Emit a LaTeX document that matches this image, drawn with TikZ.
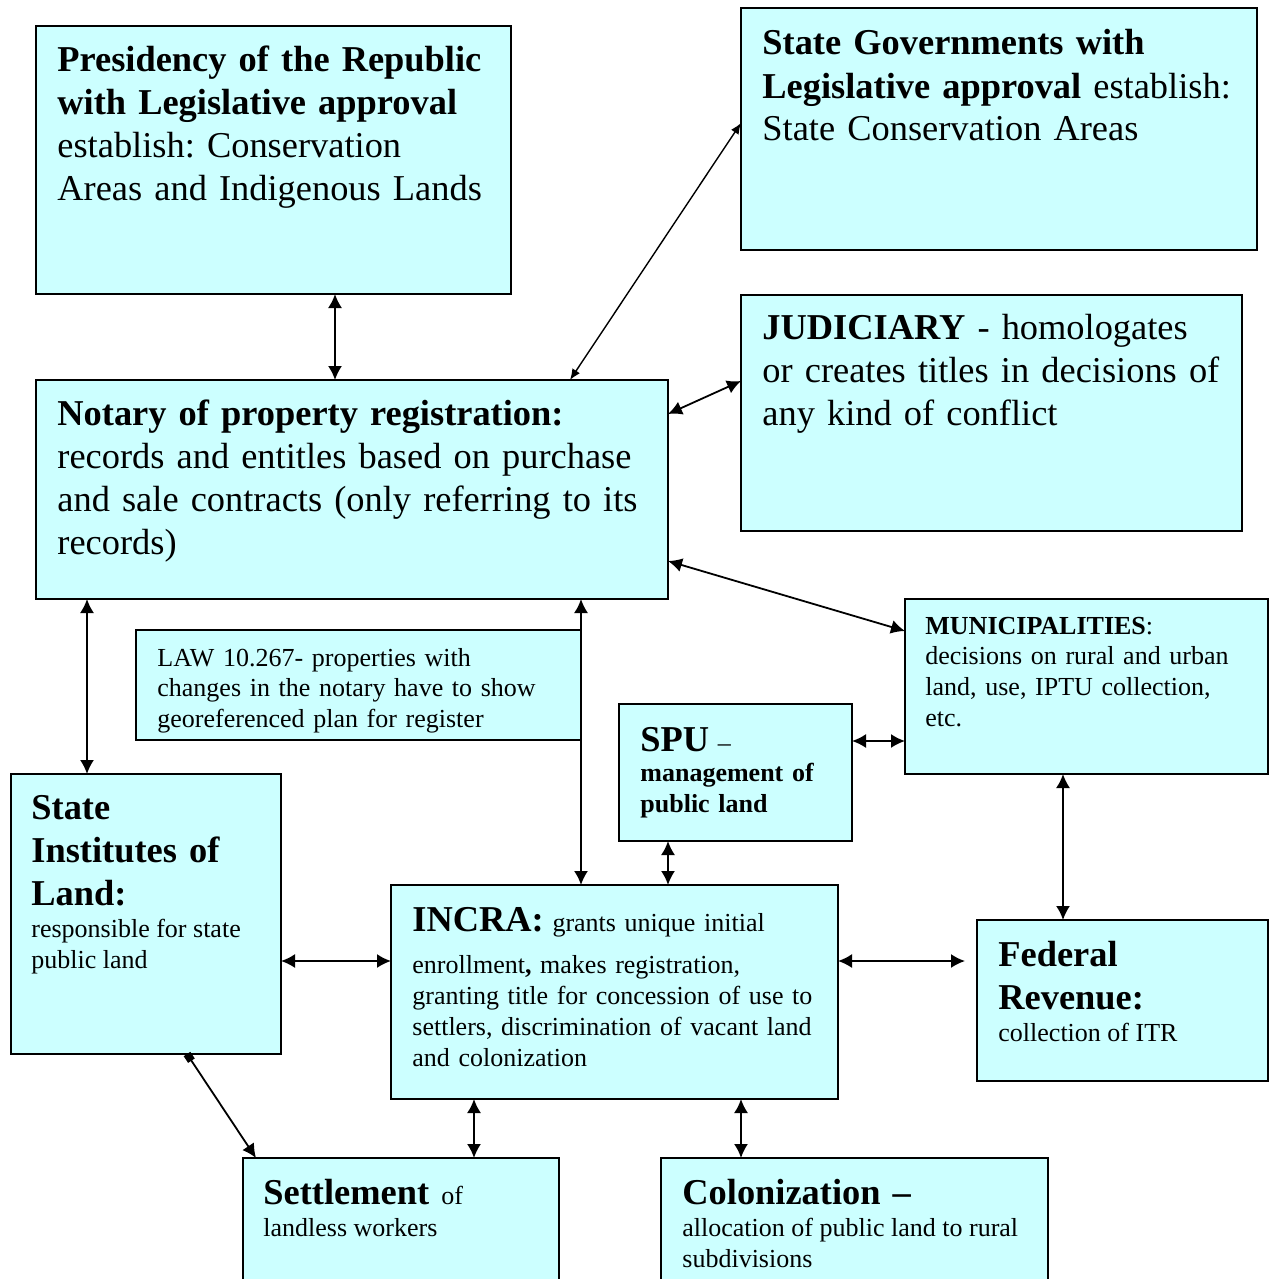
\documentclass[tikz,border=0pt]{standalone}
\usepackage{fontspec}
\setmainfont{Liberation Serif}
\usetikzlibrary{arrows.meta}
\definecolor{boxcyan}{HTML}{CCFFFF}
\newcommand{\bigtxt}{\fontsize{18.2}{21.5}\selectfont\spaceskip=0pt\xspaceskip=0pt}
\newcommand{\smalltxt}{\fontsize{13}{15.4}\selectfont\spaceskip=0pt\xspaceskip=0pt}
\setlength{\parindent}{0pt}
\frenchspacing

\begin{document}
\begin{tikzpicture}[x=0.5pt, y=-0.5pt]

            % Define block styles
            \tikzstyle{box} = [rectangle, draw, line width=1pt, fill=boxcyan, inner sep=0pt, outer sep=0pt]
            \tikzstyle{txt} = [inner sep=0pt, anchor=base west]
            \tikzstyle{line} = [draw, line width=0.9pt, {Latex[length=7pt,width=7pt]}-{Latex[length=7pt,width=7pt]}]

            \useasboundingbox (0,0) rectangle (1270,1279);
            \clip (0,0) rectangle (1270,1279);

            % Boxes
            \node [box, minimum width=237.5pt, minimum height=134pt] (pres) at (273.5,160) {};
            \node [box, minimum width=258pt, minimum height=121pt] (stategov) at (999,129) {};
            \node [box, minimum width=250.5pt, minimum height=118pt] (judic) at (991.5,413) {};
            \node [box, minimum width=316pt, minimum height=109.5pt] (notary) at (352,489.5) {};
            \node [box, minimum width=222.5pt, minimum height=55pt] (law) at (358.5,685) {};
            \node [box, minimum width=181.5pt, minimum height=87.5pt] (muni) at (1086.5,686.5) {};
            \node [box, minimum width=116.5pt, minimum height=68.5pt] (spu) at (735.5,772.5) {};
            \node [box, minimum width=135pt, minimum height=140pt] (stinst) at (146,914) {};
            \node [box, minimum width=223.5pt, minimum height=107pt] (incra) at (614.5,992) {};
            \node [box, minimum width=145.5pt, minimum height=80.5pt] (federal) at (1122.5,1000.5) {};
            \node [box, minimum width=158pt, minimum height=81pt] (settle) at (401,1239) {};
            \node [box, minimum width=193.5pt, minimum height=81pt] (colon) at (854.5,1239) {};

            % Texts
            \node [txt, text width=220pt, font=\bigtxt] (pres-t) at (57,72) {\textbf{Presidency of the Republic\\ with Legislative approval}\\ establish: Conservation\\ Areas and Indigenous Lands};
            \node [txt, text width=240pt, font=\bigtxt] (stategov-t) at (762,55) {\textbf{State Governments with\\ Legislative approval} establish:\\ State Conservation Areas};
            \node [txt, text width=235pt, font=\bigtxt] (judic-t) at (762,339) {\textbf{JUDICIARY} - homologates\\ or creates titles in decisions of\\ any kind of conflict};
            \node [txt, text width=300pt, font=\bigtxt] (notary-t) at (57,425) {\textbf{Notary of property registration:}\\ records and entitles based on purchase\\ and sale contracts (only referring to its\\ records)};
            \node [txt, text width=205pt, font=\smalltxt] (law-t) at (157,666) {LAW 10.267- properties with\\ changes in the notary have to show\\ georeferenced plan for register};
            \node [txt, text width=168pt, font=\smalltxt] (muni-t) at (925,634) {\textbf{MUNICIPALITIES}:\\ decisions on rural and urban\\ land, use, IPTU collection,\\ etc.};
            \node [txt, text width=104pt, font=\smalltxt] (spu-t) at (640,751) {{\bigtxt\bfseries SPU} --\\ \textbf{management of\\ public land}};
            \node [txt, text width=122pt, font=\bigtxt] (stinst-t) at (31,819) {\textbf{State\\ Institutes of\\ Land:}\par\vspace{1pt}\smalltxt responsible for state\\ public land\par};
            \node [txt, text width=210pt, font=\smalltxt] (incra-t) at (412,931) {{\bigtxt\bfseries INCRA:} grants unique initial\\[6pt] enrollment\textbf{,} makes registration,\\ granting title for concession of use to\\ settlers, discrimination of vacant land\\ and colonization};
            \node [txt, text width=132pt, font=\bigtxt] (federal-t) at (998,966) {\textbf{Federal\\ Revenue:}\par\vspace{0.6pt}\smalltxt collection of ITR\par};
            \node [txt, text width=145pt, font=\bigtxt] (settle-t) at (263,1204) {\textbf{Settlement} {\smalltxt of}\par\vspace{1pt}\smalltxt landless workers\par};
            \node [txt, text width=180pt, font=\bigtxt] (colon-t) at (682,1204) {\textbf{Colonization --}\par\vspace{1pt}\smalltxt allocation of public land to rural\\ subdivisions\par};

            % Arrows
            \path [line] (pres.south -| 335,0) -- (notary.north -| 335,0);
            \path [line, line width=0.7pt, {Latex[length=5.5pt,width=4.5pt]}-{Latex[length=5.5pt,width=4.5pt]}] (notary.north -| 570,0) -- (stategov.west |- 0,123);
            \path [line] (notary.east |- 0,414) -- (judic.west |- 0,381);
            \path [line] (notary.east |- 0,561) -- (muni.west |- 0,631);
            \path [line] (notary.south -| 87,0) -- (stinst.north -| 87,0);
            \path [line] (notary.south -| 581,0) -- (incra.north -| 581,0);
            \path [line] (spu.east |- 0,741) -- (muni.west |- 0,741);
            \path [line] (spu.south -| 668,0) -- (incra.north -| 668,0);
            \path [line] (muni.south -| 1063,0) -- (federal.north -| 1063,0);
            \path [line] (stinst.east |- 0,961) -- (incra.west |- 0,961);
            \path [line, shorten >=6pt] (incra.east |- 0,961) -- (federal.west |- 0,961);
            \path [line, {Square[length=4pt,width=4pt]}-{Latex[length=7pt,width=7pt]}] (stinst.south -| 187,0) -- (settle.north -| 256,0);
            \path [line] (incra.south -| 474,0) -- (settle.north -| 474,0);
            \path [line] (incra.south -| 741,0) -- (colon.north -| 741,0);

\end{tikzpicture}
\end{document}
